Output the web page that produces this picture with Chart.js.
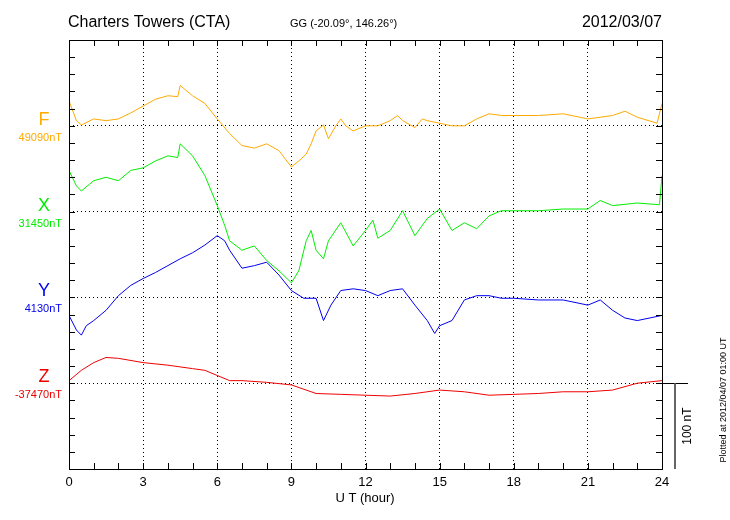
<!DOCTYPE html>
<html><head><meta charset="utf-8">
<script src="https://cdn.jsdelivr.net/npm/chart.js@4/dist/chart.umd.min.js"></script>
<style>html,body{margin:0;padding:0;background:#fff}#w{width:730px;height:520px}</style>
</head><body><div id="w"><canvas id="c"></canvas></div>
<script>
const components = ["F","X","Y","Z"];
const baseLabels = ["49090nT","31450nT","4130nT","-37470nT"];
const colors = ["#ffaa00","#00ee00","#0000ee","#ee0000"];
const baselines = [400,300,200,100];
const xTickLabels = ["0","3","6","9","12","15","18","21","24"];
const fT=[0,0.3,0.5,1,1.5,2,2.5,3,3.5,4,4.4,4.5,5,5.5,6,6.5,7,7.5,8,8.5,9,9.3,9.6,9.8,10,10.3,10.5,10.8,11,11.2,11.5,12,12.5,13,13.3,13.5,14,14.3,14.5,15,15.5,16,16.5,17,17.5,18,19,20,21,22,22.5,23,23.8,24];
const fV=[29,6,1,8,6,8,15,23,31,35,34,47,35,26,8,-9,-23,-26,-21,-29,-48,-41,-33,-21,-6,1,-15,0,8,0,-6,0,0,6,12,6,-2,8,6,3,0,0,8,14,12,12,12,14,8,12,17,10,3,26];
const xT=[0,0.3,0.5,1,1.5,2,2.5,3,3.5,4,4.4,4.5,5,5.5,6,6.3,6.5,7,7.5,8,8.5,9,9.3,9.6,9.8,10,10.3,10.5,11,11.5,12,12.3,12.5,13,13.5,14,14.5,15,15.5,16,16.5,17,17.5,18,19,20,21,21.5,22,23,23.9,24];
const xV=[48,30,24,36,40,36,48,51,59,65,63,79,65,42,7,-16,-34,-45,-40,-57,-69,-83,-69,-34,-22,-45,-55,-34,-13,-40,-22,-10,-31,-22,1,-28,-8,3,-22,-13,-20,-5,1,1,1,3,3,13,7,10,8,42];
const yT=[0,0.3,0.5,0.7,1,1.5,2,2.5,3,3.5,4,4.5,5,5.5,6,6.3,6.5,7,7.5,8,8.5,9,9.5,10,10.3,10.6,11,11.5,12,12.5,13,13.5,14,14.5,14.8,15,15.5,16,16.5,17,17.5,18,19,20,21,21.5,22,22.5,23,24];
const yV=[-21,-38,-44,-33,-27,-15,2,14,22,29,37,45,52,61,72,66,55,34,37,41,26,8,-1,-1,-27,-9,8,10,8,2,8,10,-9,-27,-42,-33,-27,-3,2,2,-1,-1,-3,-3,-9,-3,-15,-24,-27,-21];
const zT=[0,0.5,1,1.5,2,3,4,5,5.5,6,6.5,7,8,9,10,11,12,13,14,15,16,17,18,19,20,21,22,23,24];
const zV=[3,15,24,30,29,24,21,17,15,9,3,3,1,-2,-12,-13,-14,-15,-12,-8,-10,-14,-13,-12,-10,-10,-8,0,3];
const series=[[fT,fV],[xT,xV],[yT,yV],[zT,zV]];
const datasets=series.map((s,i)=>({data:s[0].map((t,k)=>({x:t,y:baselines[i]+s[1][k]})),borderColor:colors[i],borderWidth:1,pointRadius:0,tension:0,fill:false}));
const F="Helvetica, 'Liberation Sans', Arial, sans-serif";
const deco={id:'deco',afterDraw(ch){
 const c=ch.ctx,xs=ch.scales.x,ys=ch.scales.y,a=ch.chartArea;
 c.save();c.strokeStyle='#000';c.lineWidth=1;
 c.strokeRect(Math.round(a.left)+0.5,Math.round(a.top)+0.5,Math.round(a.right-a.left),Math.round(a.bottom-a.top));
 for(let h=0;h<=24;h++){const x=Math.round(xs.getPixelForValue(h))+0.5;
  c.beginPath();c.moveTo(x,a.bottom);c.lineTo(x,a.bottom-6);c.moveTo(x,a.top);c.lineTo(x,a.top+6);c.stroke();}
 for(let v=0;v<=500;v+=20){const y=Math.round(ys.getPixelForValue(v))+0.5;
  c.beginPath();c.moveTo(a.left,y);c.lineTo(a.left+6,y);c.moveTo(a.right,y);c.lineTo(a.right-6,y);c.stroke();}
 const y100=ys.getPixelForValue(100),y0=ys.getPixelForValue(0);
 c.beginPath();c.moveTo(a.right,Math.round(y100)+0.5);c.lineTo(a.right+26,Math.round(y100)+0.5);c.stroke();
 c.strokeStyle='#666';c.lineWidth=2;c.beginPath();c.moveTo(a.right+13,y100);c.lineTo(a.right+13,y0);c.stroke();
 c.fillStyle='#000';c.font='16px '+F;c.textBaseline='alphabetic';
 c.textAlign='left';c.fillText('Charters Towers (CTA)',68,27);
 c.textAlign='right';c.fillText('2012/03/07',662,27);
 c.font='11px '+F;c.textAlign='left';c.fillText('GG (-20.09°, 146.26°)',290,27);
 c.font='13px '+F;c.textAlign='center';c.fillText('U T (hour)',365,502);
 components.forEach((n,i)=>{const y=ys.getPixelForValue(baselines[i]);c.fillStyle=colors[i];
  c.font='18px '+F;c.textAlign='center';c.fillText(n,44,y-1);
  c.font='11px '+F;c.textAlign='right';c.fillText(baseLabels[i],62,y+15);});
 c.fillStyle='#000';
 c.save();c.translate(691,(y100+y0)/2);c.rotate(-Math.PI/2);c.font='12px '+F;c.textAlign='center';c.fillText('100 nT',0,0);c.restore();
 c.save();c.translate(726,400);c.rotate(-Math.PI/2);c.font='9px '+F;c.textAlign='center';c.fillText('Plotted at 2012/04/07 01:00 UT',0,0);c.restore();
 c.restore();}};
new Chart(document.getElementById('c'),{type:'line',data:{datasets},
 options:{responsive:true,maintainAspectRatio:false,animation:false,
 layout:{padding:{top:40,right:68,left:0,bottom:0}},
 plugins:{legend:{display:false},tooltip:{enabled:false}},
 scales:{
  x:{type:'linear',min:0,max:24,afterFit(s){s.height=51;},
   ticks:{stepSize:3,color:'#000',font:{size:13,family:F},padding:6,maxRotation:0,callback:(v)=>xTickLabels[v/3]},
   border:{display:false,dash:[1,3]},
   grid:{drawTicks:false,color:(ctx)=>(ctx.tick&&ctx.tick.value>0&&ctx.tick.value<24)?'#000':'rgba(0,0,0,0)',lineWidth:1}},
  y:{min:0,max:500,afterFit(s){s.width=69;},
   ticks:{display:false,stepSize:100},
   border:{display:false,dash:[1,3]},
   grid:{drawTicks:false,color:(ctx)=>(ctx.tick&&ctx.tick.value>0&&ctx.tick.value<500)?'#000':'rgba(0,0,0,0)',lineWidth:1}}
 }},plugins:[deco]});
</script></body></html>
